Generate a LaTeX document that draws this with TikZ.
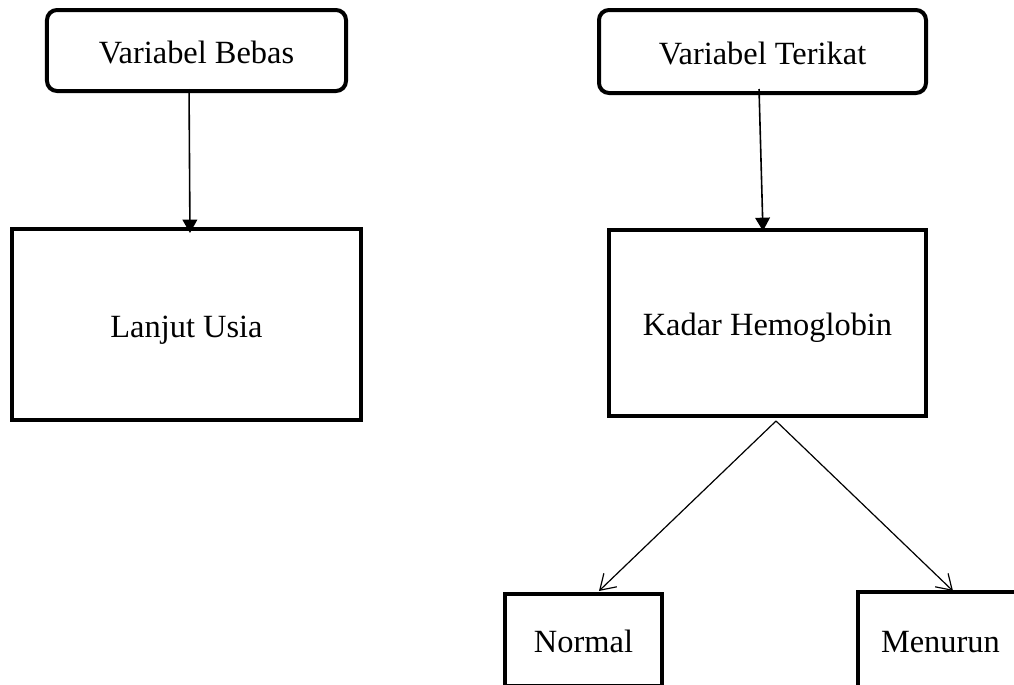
\documentclass[tikz,border=0pt]{standalone}
\usepackage{fontspec}
\setmainfont{Liberation Serif}
\usepackage{xcolor}
\usetikzlibrary{arrows.meta}
\definecolor{lineColor}{HTML}{000000}
\definecolor{textColor}{HTML}{000000}
\def\textBebas{Variabel Bebas}
\def\textTerikat{Variabel Terikat}
\def\textUsia{Lanjut Usia}
\def\textHb{Kadar Hemoglobin}
\def\textNormal{Normal}
\def\textTurun{Menurun}

\begin{document}
\begin{tikzpicture}[x=0.75bp,y=-0.75bp,
  font=\fontsize{24.4}{28}\selectfont,
  varBox/.style={draw=lineColor, line width=3bp, rounded corners=7.5bp,
    inner sep=0pt, text=textColor, text height=18.75bp, text depth=0pt},
  mainBox/.style={draw=lineColor, line width=3bp, inner sep=0pt,
    text=textColor, text height=18.75bp, text depth=0pt},
  downLink/.style={draw=lineColor, line width=1.2bp,
    -{Triangle[length=10bp,width=11bp]}},
  splitLink/.style={draw=lineColor, line width=0.9bp,
    -{Straight Barb[length=11bp,width=14bp,line width=0.9bp]}}]

% page
\useasboundingbox (0, 0) rectangle (1014, 685);
\clip (0, 0) rectangle (1014, 685);

% variable layer
\begin{scope}
\node[varBox, minimum width=224.25bp, minimum height=60.75bp]
  (bebas) at (196.5, 50.5) {\textBebas};
\node[varBox, minimum width=245.25bp, minimum height=62.25bp]
  (terikat) at (762.5, 51.5) {\textTerikat};
\end{scope}

% box layer
\begin{scope}
\node[mainBox, minimum width=261.75bp, minimum height=143.25bp]
  (usia) at (186.5, 324.5) {\textUsia};
\node[mainBox, minimum width=237.75bp, minimum height=139.5bp]
  (hb) at (767.5, 323) {\textHb};
\node[mainBox, minimum width=117.75bp, minimum height=69bp]
  (normal) at (583.5, 640) {\textNormal};
% runs off the right edge of the page, so only left, top and bottom
\node[mainBox, draw=none, anchor=west, minimum height=69bp,
  inner xsep=15.75bp, text width=118.5bp, align=left]
  (turun) at (858, 640) {\textTurun};
\draw[draw=lineColor, line width=3bp] (turun.south west) |- (turun.north east);
\draw[draw=lineColor, line width=3bp] (turun.south west) -- (turun.south east);
\end{scope}

% link layer
\begin{scope}
\draw[downLink] ([xshift=-5.6bp, yshift=3bp]bebas.south)
  -- ([xshift=2.6bp, yshift=-4.5bp]usia.north);
\draw[downLink] ([xshift=-2.6bp, yshift=4.5bp]terikat.south)
  -- ([xshift=-3.4bp, yshift=-2.25bp]hb.north);
\draw[splitLink] ([xshift=6.4bp, yshift=-2.25bp]hb.south)
  -- ([xshift=11.6bp, yshift=0.75bp]normal.north);
\draw[splitLink] ([xshift=6.4bp, yshift=-2.25bp]hb.south)
  -- ([xshift=71.25bp, yshift=0.75bp]turun.north west);
\end{scope}

\end{tikzpicture}
\end{document}
